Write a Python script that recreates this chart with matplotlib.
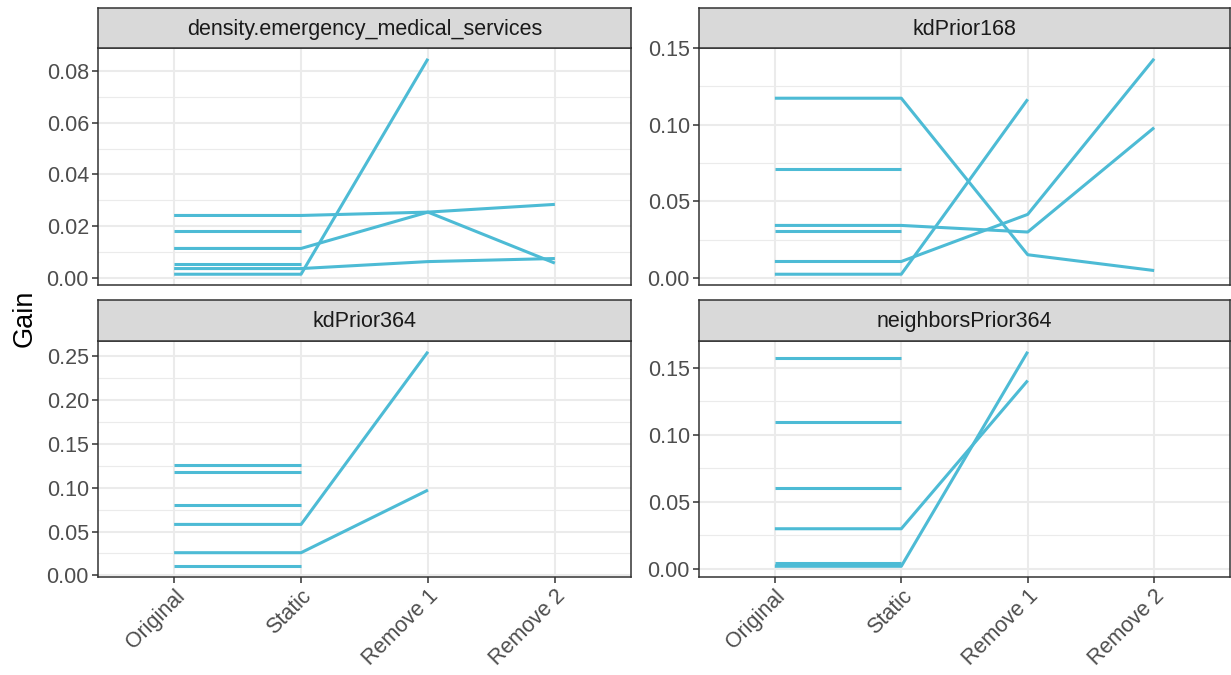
import numpy as np
import matplotlib
matplotlib.use("Agg")
import matplotlib.pyplot as plt
from matplotlib.ticker import MultipleLocator, FormatStrFormatter

plt.rcParams['font.family'] = ['Liberation Sans', 'DejaVu Sans']

nan = np.nan
stages = ["Original", "Static", "Remove 1", "Remove 2"]

facets = ["density.emergency_medical_services", "kdPrior168",
          "kdPrior364", "neighborsPrior364"]

# gain per feature group across the four stages (nan = not present)
gain_density = [
    [0.0241, 0.0241, 0.0254, 0.0284],
    [0.0182, 0.0182, nan, nan],
    [0.0113, 0.0113, 0.0254, 0.0056],
    [0.0052, 0.0052, nan, nan],
    [0.0035, 0.0035, 0.0062, 0.0074],
    [0.0013, 0.0013, 0.0849, nan],
]
gain_kd168 = [
    [0.1173, 0.1173, 0.0153, 0.0050],
    [0.0709, 0.0709, nan, nan],
    [0.0344, 0.0344, 0.0301, 0.0981],
    [0.0307, 0.0307, nan, nan],
    [0.0109, 0.0109, 0.0416, 0.1430],
    [0.0026, 0.0026, 0.1166, nan],
]
gain_kd364 = [
    [0.1258, 0.1258, nan, nan],
    [0.1178, 0.1178, nan, nan],
    [0.0798, 0.0798, nan, nan],
    [0.0581, 0.0581, 0.2553, nan],
    [0.0258, 0.0258, 0.0973, nan],
    [0.0103, 0.0103, nan, nan],
]
gain_nb364 = [
    [0.1572, 0.1572, nan, nan],
    [0.1096, 0.1096, nan, nan],
    [0.0607, 0.0607, nan, nan],
    [0.0300, 0.0300, 0.1406, nan],
    [0.0045, 0.0045, nan, nan],
    [0.0032, 0.0032, nan, nan],
    [0.0020, 0.0020, 0.1621, nan],
]
panel_data = [gain_density, gain_kd168, gain_kd364, gain_nb364]
y_steps = [0.02, 0.05, 0.05, 0.05]

W, H = 1231, 675
fig = plt.figure(figsize=(W / 100, H / 100), dpi=100)

# panel boxes in pixels: (left, right, strip top, panel top, panel bottom)
cols = [(98, 631), (699, 1230)]
rows = [(8, 48, 285), (300, 341, 577)]

line_col = "#4DBBD5"
dark = "#333333"

def px_box(x0, x1, y0, y1):
    return [x0 / W, 1 - y1 / H, (x1 - x0) / W, (y1 - y0) / H]

for i, (name, data) in enumerate(zip(facets, panel_data)):
    r, c = divmod(i, 2)
    x0, x1 = cols[c]
    st, pt, pb = rows[r]

    ax = fig.add_axes(px_box(x0, x1, pt, pb))
    xs = np.arange(len(stages))
    for g in data:
        ax.plot(xs, g, color=line_col, lw=2.2, solid_capstyle='butt')

    vals = np.array(data, dtype=float)
    lo, hi = np.nanmin(vals), np.nanmax(vals)
    pad = (hi - lo) * 0.05
    ax.set_ylim(lo - pad, hi + pad)
    ax.set_xlim(-0.6, len(stages) - 0.4)

    ax.yaxis.set_major_locator(MultipleLocator(y_steps[i]))
    ax.yaxis.set_minor_locator(MultipleLocator(y_steps[i] / 2))
    ax.yaxis.set_major_formatter(FormatStrFormatter('%.2f'))
    ax.set_xticks(xs)
    ax.grid(which='major', color='#EBEBEB', lw=1.5)
    ax.grid(which='minor', axis='y', color='#EBEBEB', lw=0.8)
    ax.set_axisbelow(True)

    for s in ax.spines.values():
        s.set_color(dark)
        s.set_linewidth(1.1)
    ax.tick_params(which='both', color=dark, width=1.1, length=4.5,
                   labelsize=15.5, labelcolor='#4D4D4D', pad=2)
    ax.tick_params(which='minor', length=0)

    if r == 1:
        ax.set_xticklabels(stages, rotation=45, ha='right', va='top',
                           rotation_mode='anchor')
    else:
        ax.tick_params(axis='x', bottom=False, labelbottom=False)

    sax = fig.add_axes(px_box(x0, x1, st, pt))
    sax.set_facecolor('#D9D9D9')
    sax.set_xticks([])
    sax.set_yticks([])
    for s in sax.spines.values():
        s.set_color(dark)
        s.set_linewidth(1.1)
    sax.text(0.5, 0.47, name, ha='center', va='center', fontsize=15.5,
             color='#1A1A1A', transform=sax.transAxes)

fig.text(25 / W, 1 - 318 / H, "Gain", rotation=90, ha='center', va='center',
         fontsize=19.5, color='black')

fig.savefig("out.png", dpi=100)
